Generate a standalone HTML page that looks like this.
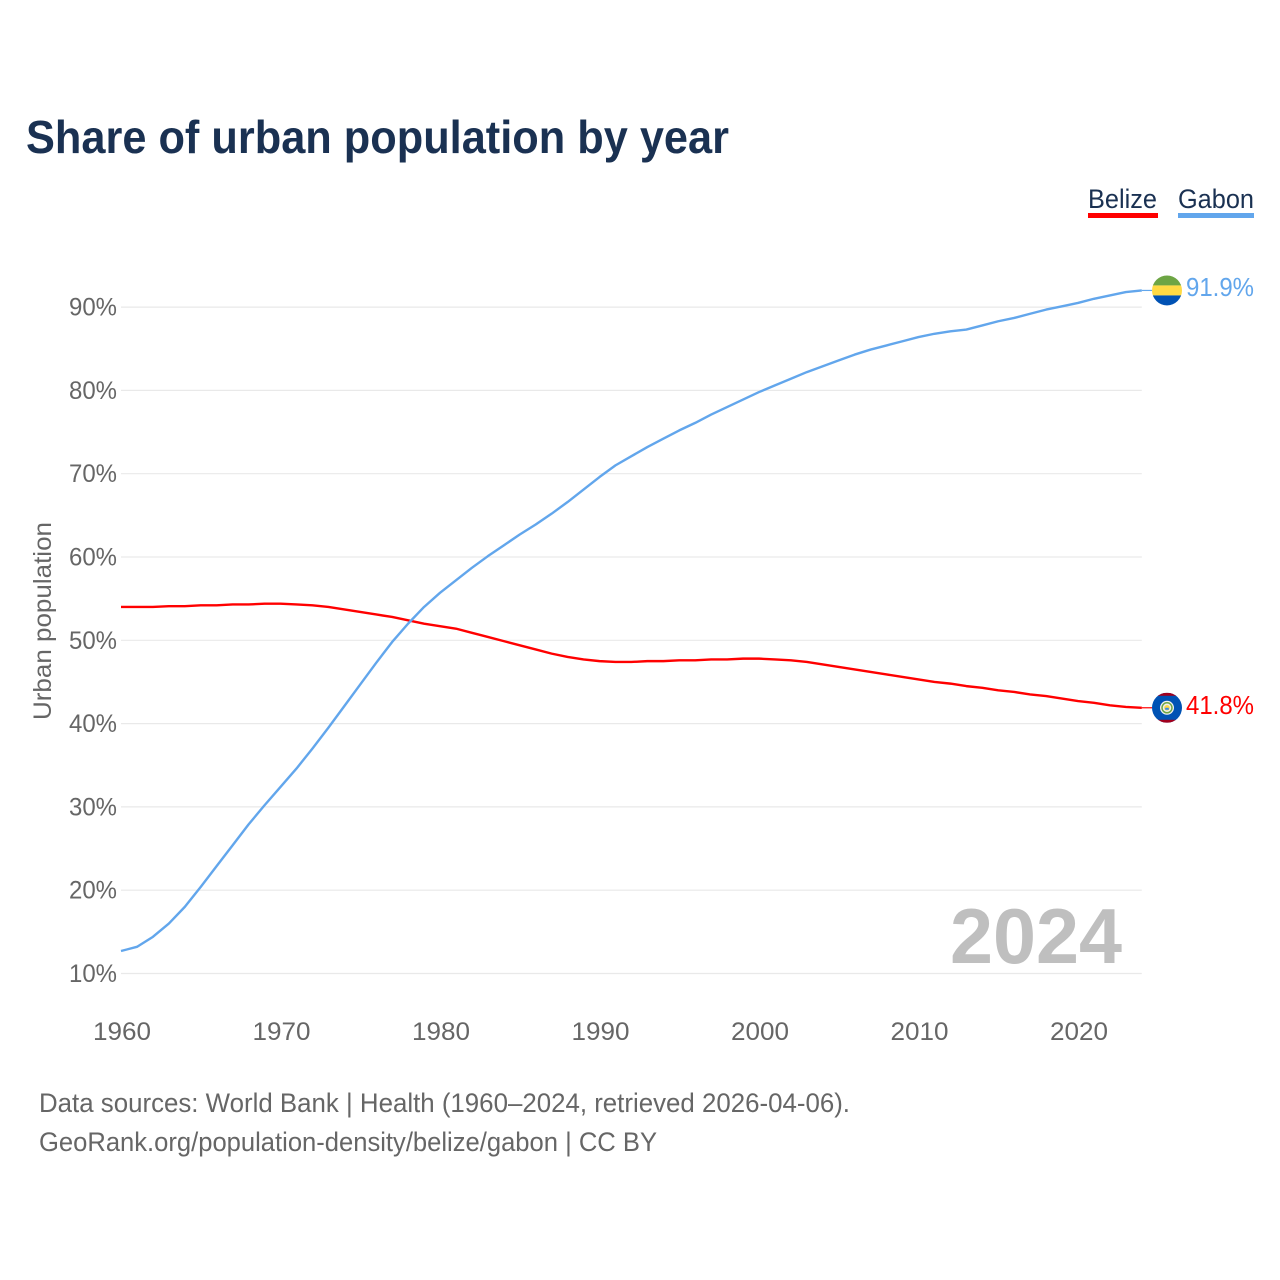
<!DOCTYPE html>
<html lang="en">
<head>
<meta charset="utf-8">
<title>Share of urban population by year</title>
<style>
html,body{margin:0;padding:0;background:#fff;}
svg{display:block;font-family:"Liberation Sans",sans-serif;}
</style>
</head>
<body>
<svg id="chart" width="1280" height="1280" viewBox="0 0 1280 1280" xmlns="http://www.w3.org/2000/svg">
  <rect width="1280" height="1280" fill="#ffffff"/>
  <text x="26" y="153" font-size="46" font-weight="700" fill="#1a3152" textLength="703" lengthAdjust="spacingAndGlyphs">Share of urban population by year</text>

  <g>
    <text x="1088" y="208" font-size="27" fill="#1a3152" textLength="69" lengthAdjust="spacingAndGlyphs">Belize</text>
    <rect x="1088" y="213" width="70" height="5" fill="#ff0000"/>
  </g>
  <g>
    <text x="1178" y="208" font-size="27" fill="#1a3152" textLength="76" lengthAdjust="spacingAndGlyphs">Gabon</text>
    <rect x="1178" y="213" width="76" height="5" fill="#62a6ec"/>
  </g>

  <g id="grid"></g>
  <g id="yticks"></g>
  <g id="xticks"></g>

  <text transform="translate(51,621) rotate(-90)" text-anchor="middle" font-size="25" fill="#666666" textLength="198" lengthAdjust="spacingAndGlyphs">Urban population</text>
  <text x="950" y="963" font-size="78" font-weight="700" fill="#bfbfbf" textLength="172" lengthAdjust="spacingAndGlyphs">2024</text>

  <g id="series"></g>

  <defs>
    <clipPath id="flag-clip"><circle cx="0" cy="0" r="15"/></clipPath>
  </defs>
  <g id="flag-gabon" clip-path="url(#flag-clip)">
    <rect x="-15" y="-15" width="30" height="10" fill="#6da544"/>
    <rect x="-15" y="-5" width="30" height="10" fill="#ffda44"/>
    <rect x="-15" y="5" width="30" height="10" fill="#0052b4"/>
  </g>
  <g id="flag-belize" clip-path="url(#flag-clip)">
    <rect x="-15" y="-15" width="30" height="30" fill="#0052b4"/>
    <rect x="-15" y="-15" width="30" height="3" fill="#a2001d"/>
    <rect x="-15" y="12" width="30" height="3" fill="#a2001d"/>
    <circle r="7" fill="#f0f0f0"/>
    <circle r="5" fill="none" stroke="#6da544" stroke-width="1.5"/>
    <circle r="2.8" fill="#ffda44"/>
    <rect x="-1.8" y="0" width="3.6" height="2" fill="#338af3"/>
  </g>
  <text id="value-gabon" x="1186" y="296" font-size="26" fill="#62a6ec" textLength="68" lengthAdjust="spacingAndGlyphs">91.9%</text>
  <text id="value-belize" x="1186" y="714" font-size="26" fill="#ff0000" textLength="68" lengthAdjust="spacingAndGlyphs">41.8%</text>

  <text x="39" y="1112" font-size="27" fill="#666666" textLength="811" lengthAdjust="spacingAndGlyphs">Data sources: World Bank | Health (1960–2024, retrieved 2026-04-06).</text>
  <text x="39" y="1151" font-size="27" fill="#666666" textLength="618" lengthAdjust="spacingAndGlyphs">GeoRank.org/population-density/belize/gabon | CC BY</text>
</svg>
<script>
const startYear = 1960;
const yTicks = [10, 20, 30, 40, 50, 60, 70, 80, 90];
const xTicks = [1960, 1970, 1980, 1990, 2000, 2010, 2020];
const belizeValues = [54.0,54.0,54.0,54.1,54.1,54.2,54.2,54.3,54.3,54.4,54.4,54.3,54.2,54.0,53.7,53.4,53.1,52.8,52.4,52.0,51.7,51.4,50.9,50.4,49.9,49.4,48.9,48.4,48.0,47.7,47.5,47.4,47.4,47.5,47.5,47.6,47.6,47.7,47.7,47.8,47.8,47.7,47.6,47.4,47.1,46.8,46.5,46.2,45.9,45.6,45.3,45.0,44.8,44.5,44.3,44.0,43.8,43.5,43.3,43.0,42.7,42.5,42.2,42.0,41.9];
const gabonValues = [12.7,13.2,14.4,16.0,18.0,20.4,22.9,25.4,27.9,30.2,32.4,34.6,37.0,39.5,42.1,44.7,47.3,49.8,52.0,54.0,55.7,57.2,58.7,60.1,61.4,62.7,63.9,65.2,66.6,68.1,69.6,71.0,72.1,73.2,74.2,75.2,76.1,77.1,78.0,78.9,79.8,80.6,81.4,82.2,82.9,83.6,84.3,84.9,85.4,85.9,86.4,86.8,87.1,87.3,87.8,88.3,88.7,89.2,89.7,90.1,90.5,91.0,91.4,91.8,92.0];

const NS = 'http://www.w3.org/2000/svg';
function xScale(year) { return 121 + (year - 1960) * 15.95; }
function yScale(value) { return 973.5 - (value - 10) * 8.33; }

const grid = document.getElementById('grid');
const yGroup = document.getElementById('yticks');
const xGroup = document.getElementById('xticks');
const seriesGroup = document.getElementById('series');
const lastYear = startYear + gabonValues.length - 1;

yTicks.forEach(function (t) {
  const line = document.createElementNS(NS, 'line');
  
  
  line.setAttribute('x1', xScale(startYear));
  line.setAttribute('x2', xScale(lastYear));
  line.setAttribute('y1', yScale(t));
  line.setAttribute('y2', yScale(t));
  line.setAttribute('stroke', '#e9e9e9');
  line.setAttribute('stroke-width', '1.2');
  grid.appendChild(line);

  const label = document.createElementNS(NS, 'text');
  
  
  label.setAttribute('x', 117);
  label.setAttribute('y', yScale(t) + 8.5);
  label.setAttribute('text-anchor', 'end');
  label.setAttribute('font-size', '25');
  label.setAttribute('fill', '#666666');
  label.setAttribute('textLength', '48');
  label.setAttribute('lengthAdjust', 'spacingAndGlyphs');
  label.textContent = t + '%';
  yGroup.appendChild(label);
});

xTicks.forEach(function (t) {
  const label = document.createElementNS(NS, 'text');
  
  
  label.setAttribute('x', xScale(t) + 1);
  label.setAttribute('y', 1040);
  label.setAttribute('text-anchor', 'middle');
  label.setAttribute('font-size', '25');
  label.setAttribute('fill', '#666666');
  label.setAttribute('textLength', '58');
  label.setAttribute('lengthAdjust', 'spacingAndGlyphs');
  label.textContent = t;
  xGroup.appendChild(label);
});

function drawSeries(values, color, name) {
  const d = values.map(function (v, i) {
    return (i ? 'L' : 'M') + xScale(startYear + i).toFixed(2) + ' ' + yScale(v).toFixed(2);
  }).join(' ');
  const path = document.createElementNS(NS, 'path');
  
  
  path.setAttribute('d', d);
  path.setAttribute('fill', 'none');
  path.setAttribute('stroke', color);
  path.setAttribute('stroke-width', '2.4');
  path.setAttribute('stroke-linejoin', 'round');
  seriesGroup.appendChild(path);

  const lastY = yScale(values[values.length - 1]);
  const connector = document.createElementNS(NS, 'line');
  
  
  connector.setAttribute('x1', xScale(lastYear));
  connector.setAttribute('x2', 1152);
  connector.setAttribute('y1', lastY);
  connector.setAttribute('y2', lastY);
  connector.setAttribute('stroke', color);
  connector.setAttribute('stroke-width', '1.2');
  seriesGroup.appendChild(connector);

  document.getElementById('flag-' + name).setAttribute('transform', 'translate(1167,' + lastY.toFixed(2) + ')');
}
drawSeries(belizeValues, '#ff0000', 'belize');
drawSeries(gabonValues, '#62a6ec', 'gabon');
</script>
</body>
</html>
